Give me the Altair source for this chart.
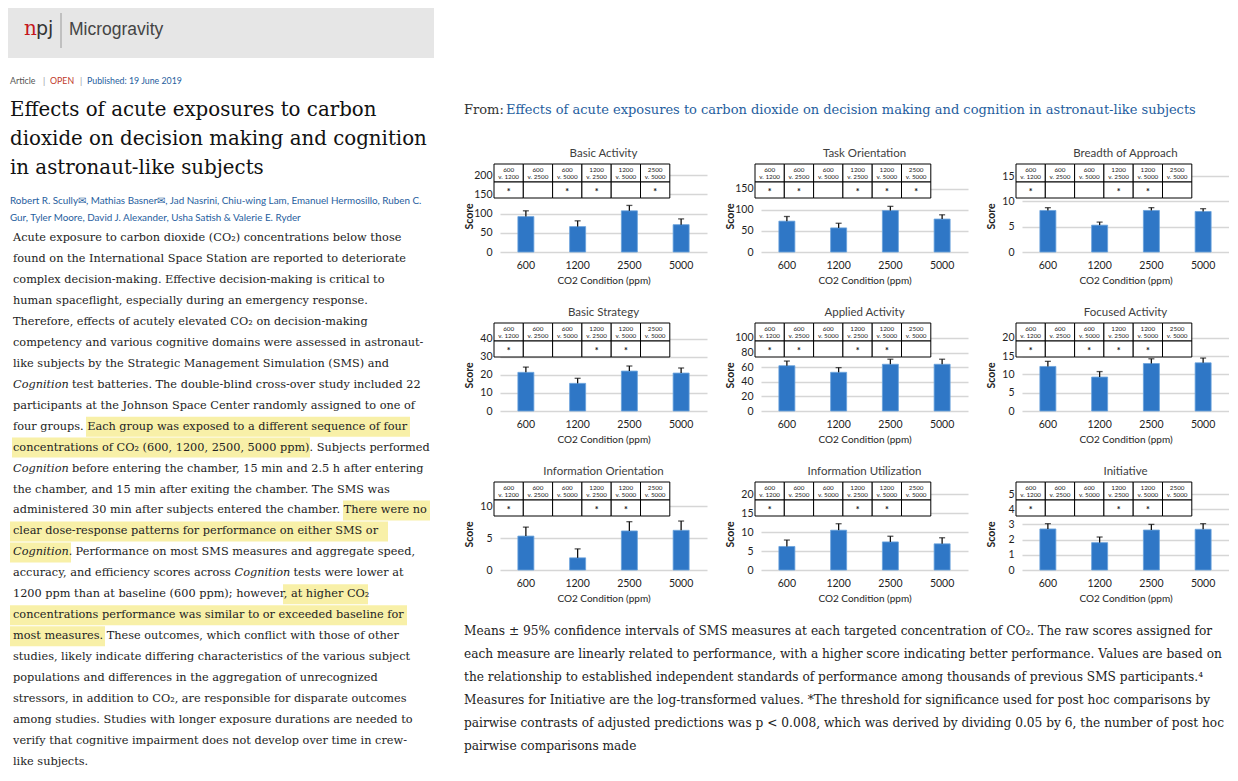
import altair as alt
import pandas as pd

# ---------------- data ----------------
conditions = ["600", "1200", "2500", "5000"]

panel_names = ["Basic Activity", "Task Orientation", "Breadth of Approach",
               "Basic Strategy", "Applied Activity", "Focused Activity",
               "Information Orientation", "Information Utilization", "Initiative"]

basic_activity = [92, 66, 107, 71]
basic_activity_ci = [15, 15, 14, 15]
task_orientation = [73, 57, 98, 78]
task_orientation_ci = [11, 11, 10, 10]
breadth_of_approach = [8.2, 5.3, 8.2, 8.0]
breadth_of_approach_ci = [0.55, 0.6, 0.55, 0.55]
basic_strategy = [21.4, 15.3, 22.1, 21.0]
basic_strategy_ci = [2.9, 2.8, 2.8, 2.8]
applied_activity = [62, 53, 64, 64]
applied_activity_ci = [6.4, 6.4, 6.9, 6.9]
focused_activity = [12.2, 9.3, 13.0, 13.2]
focused_activity_ci = [1.4, 1.5, 1.3, 1.3]
information_orientation = [5.3, 1.9, 6.1, 6.2]
information_orientation_ci = [1.4, 1.4, 1.45, 1.45]
information_utilization = [6.2, 10.5, 7.4, 6.9]
information_utilization_ci = [1.7, 1.7, 1.5, 1.6]
initiative = [2.7, 1.8, 2.63, 2.68]
initiative_ci = [0.35, 0.37, 0.37, 0.37]

comp_first = ["600", "600", "600", "1200", "1200", "2500"]
comp_second = ["v. 1200", "v. 2500", "v. 5000", "v. 2500", "v. 5000", "v. 5000"]

sig_basic_activity = [1, 0, 1, 1, 0, 1]
sig_task_orientation = [1, 1, 0, 1, 1, 1]
sig_breadth_of_approach = [1, 0, 0, 1, 1, 0]
sig_basic_strategy = [1, 0, 0, 1, 1, 0]
sig_applied_activity = [1, 1, 0, 1, 1, 0]
sig_focused_activity = [1, 0, 1, 1, 1, 0]
sig_information_orientation = [1, 0, 0, 1, 1, 0]
sig_information_utilization = [1, 0, 0, 1, 1, 0]
sig_initiative = [1, 0, 0, 1, 1, 0]

ticks_basic_activity = [0, 50, 100, 150, 200]
ticks_task_orientation = [0, 50, 100, 150]
ticks_breadth_of_approach = [0, 5, 10, 15]
ticks_basic_strategy = [0, 10, 20, 30, 40]
ticks_applied_activity = [0, 20, 40, 60, 80, 100]
ticks_focused_activity = [0, 5, 10, 15, 20]
ticks_information_orientation = [0, 5, 10]
ticks_information_utilization = [0, 5, 10, 15, 20]
ticks_initiative = [0, 1, 2, 3, 4, 5]

# ---------------- texts ----------------
journal_name = "Microgravity"
article_meta = ["Article", "|", "OPEN", "|", "Published: 19 June 2019"]
article_title = ["Effects of acute exposures to carbon",
                 "dioxide on decision making and cognition",
                 "in astronaut-like subjects"]
authors = ["Robert R. Scully\u2709, Mathias Basner\u2709, Jad Nasrini, Chiu-wing Lam, Emanuel Hermosillo, Ruben C.",
           "Gur, Tyler Moore, David J. Alexander, Usha Satish & Valerie E. Ryder"]
# each abstract line as (normal prefix, italic word, normal rest)
abstract_lines = [
    ("Acute exposure to carbon dioxide (CO\u2082) concentrations below those", "", ""),
    ("found on the International Space Station are reported to deteriorate", "", ""),
    ("complex decision-making. Effective decision-making is critical to", "", ""),
    ("human spaceflight, especially during an emergency response.", "", ""),
    ("Therefore, effects of acutely elevated CO\u2082 on decision-making", "", ""),
    ("competency and various cognitive domains were assessed in astronaut-", "", ""),
    ("like subjects by the Strategic Management Simulation (SMS) and", "", ""),
    ("", "Cognition", "test batteries. The double-blind cross-over study included 22"),
    ("participants at the Johnson Space Center randomly assigned to one of", "", ""),
    ("four groups. Each group was exposed to a different sequence of four", "", ""),
    ("concentrations of CO\u2082 (600, 1200, 2500, 5000 ppm). Subjects performed", "", ""),
    ("", "Cognition", "before entering the chamber, 15 min and 2.5 h after entering"),
    ("the chamber, and 15 min after exiting the chamber. The SMS was", "", ""),
    ("administered 30 min after subjects entered the chamber. There were no", "", ""),
    ("clear dose-response patterns for performance on either SMS or", "", ""),
    ("", "Cognition.", "Performance on most SMS measures and aggregate speed,"),
    ("accuracy, and efficiency scores across", "Cognition", "tests were lower at"),
    ("1200 ppm than at baseline (600 ppm); however, at higher CO\u2082", "", ""),
    ("concentrations performance was similar to or exceeded baseline for", "", ""),
    ("most measures. These outcomes, which conflict with those of other", "", ""),
    ("studies, likely indicate differing characteristics of the various subject", "", ""),
    ("populations and differences in the aggregation of unrecognized", "", ""),
    ("stressors, in addition to CO\u2082, are responsible for disparate outcomes", "", ""),
    ("among studies. Studies with longer exposure durations are needed to", "", ""),
    ("verify that cognitive impairment does not develop over time in crew-", "", ""),
    ("like subjects.", "", ""),
]
highlight_lines = [9, 10, 13, 14, 15, 17, 18, 19]
figure_from = ["From:", "Effects of acute exposures to carbon dioxide on decision making and cognition in astronaut-like subjects"]
caption_lines = [
    "Means \u00b1 95% confidence intervals of SMS measures at each targeted concentration of CO\u2082. The raw scores assigned for",
    "each measure are linearly related to performance, with a higher score indicating better performance. Values are based on",
    "the relationship to established independent standards of performance among thousands of previous SMS participants.\u2074",
    "Measures for Initiative are the log-transformed values. *The threshold for significance used for post hoc comparisons by",
    "pairwise contrasts of adjusted predictions was p < 0.008, which was derived by dividing 0.05 by 6, the number of post hoc",
    "pairwise comparisons made",
]

# ---------------- styles / layout ----------------
BLUE = "#2f77c6"
SANS = "Lato"
SERIF = "DejaVu Serif"
DARK = "#1e1e1e"
PW, PH = 207, 88
TAB_X0, TAB_CW = -6, 29.3

panels_spec = [
    (basic_activity, basic_activity_ci, sig_basic_activity, ticks_basic_activity, 228.6),
    (task_orientation, task_orientation_ci, sig_task_orientation, ticks_task_orientation, 208.2),
    (breadth_of_approach, breadth_of_approach_ci, sig_breadth_of_approach, ticks_breadth_of_approach, 17.37),
    (basic_strategy, basic_strategy_ci, sig_basic_strategy, ticks_basic_strategy, 48.7),
    (applied_activity, applied_activity_ci, sig_applied_activity, ticks_applied_activity, 120.5),
    (focused_activity, focused_activity_ci, sig_focused_activity, ticks_focused_activity, 24.1),
    (information_orientation, information_orientation_ci, sig_information_orientation, ticks_information_orientation, 13.75),
    (information_utilization, information_utilization_ci, sig_information_utilization, ticks_information_utilization, 23.2),
    (initiative, initiative_ci, sig_initiative, ticks_initiative, 5.79),
]


def panel(title, vals, ci, sig, ticks, ytop):
    df = pd.DataFrame({"cond": conditions, "mean": vals, "ci": ci})
    base = alt.Chart(df).transform_calculate(top="datum.mean + datum.ci")
    xaxis = alt.Axis(labelAngle=0, ticks=False, domain=False, grid=False,
                     labelPadding=8, titlePadding=5, labelFont=SANS,
                     labelFontSize=10.5, labelColor=DARK, titleFont=SANS,
                     titleFontSize=10, titleFontWeight="normal", titleColor=DARK)
    xscale = alt.Scale(paddingInner=0, paddingOuter=0)
    yaxis = alt.Axis(values=ticks, ticks=False, domain=False, grid=True, labelOverlap=False,
                     gridColor="#d6d6d6", gridWidth=1.3, labelPadding=8,
                     labelFont=SANS, labelFontSize=10.5, labelColor=DARK,
                     titleFont=SANS, titleFontSize=10.5, titleFontWeight="bold",
                     titleColor=DARK, titleX=-26, titleY=52, titleBaseline="bottom")
    yscale = alt.Scale(domain=[0, ytop], nice=False)

    def X():
        return alt.X("cond:N", sort=conditions, title="CO2 Condition (ppm)",
                     scale=xscale, axis=xaxis)

    def Y(field):
        return alt.Y(field, title="Score", scale=yscale, axis=yaxis)

    bars = base.mark_bar(size=16, color=BLUE, stroke="#6aa2dc", strokeWidth=0.8).encode(
        x=X(), y=Y("mean:Q"))
    rule = base.mark_rule(color="#111111", strokeWidth=1.3).encode(
        x=X(), y=Y("mean:Q"), y2="top:Q")
    cap = base.mark_tick(color="#111111", size=6, thickness=1.3, orient="horizontal").encode(
        x=X(), y=Y("top:Q"))

    tab = pd.DataFrame({"a": comp_first, "b": comp_second,
                        "s": ["*" if v else "" for v in sig], "i": list(range(6))})
    tb = alt.Chart(tab).transform_calculate(
        x0=f"{TAB_X0} + datum.i * {TAB_CW}",
        x1=f"{TAB_X0} + (datum.i + 1) * {TAB_CW}",
        xc=f"{TAB_X0} + (datum.i + 0.5) * {TAB_CW}")
    cell1 = tb.mark_rect(fill="white", stroke="black", strokeWidth=1).encode(
        x=alt.X("x0:Q", scale=None), x2="x1:Q", y=alt.value(0), y2=alt.value(18))
    cell2 = tb.mark_rect(fill="white", stroke="black", strokeWidth=1).encode(
        x=alt.X("x0:Q", scale=None), x2="x1:Q", y=alt.value(18), y2=alt.value(34))
    ta = tb.mark_text(font=SANS, fontSize=6.3, color="#222").encode(
        x=alt.X("xc:Q", scale=None), y=alt.value(5.5), text="a:N")
    tbb = tb.mark_text(font=SANS, fontSize=6.3, color="#222").encode(
        x=alt.X("xc:Q", scale=None), y=alt.value(12.8), text="b:N")
    ts = tb.mark_text(font=SANS, fontSize=9, fontWeight="bold", color="#111").encode(
        x=alt.X("xc:Q", scale=None), y=alt.value(28), text="s:N")
    return alt.layer(bars, rule, cap, cell1, cell2, ta, tbb, ts).properties(
        width=PW, height=PH,
        title=alt.TitleParams(title, font=SANS, fontSize=11.5, fontWeight="normal",
                              color="#404040", offset=4))


panels = [panel(n, *spec) for n, spec in zip(panel_names, panels_spec)]
grid = alt.concat(*panels, columns=3, bounds="flush",
                  spacing=alt.RowColnumber(row=71, column=54))

# ---------- left column (article page) ----------
LW, LH = 436, 760
BODY_SIZE = 11.3
BODY_X = 5
ITALIC_W = {"Cognition": 55.4, "Cognition.": 59.0}
SPACE_W = 3.6
PREFIX_W = {"accuracy, and efficiency scores across": 221.5}


def text_layer(df, **kw):
    return alt.Chart(df).mark_text(align="left", baseline="middle", **kw).encode(
        x=alt.X("x:Q", scale=None), y=alt.Y("y:Q", scale=None), text="t:N")


header = alt.Chart(pd.DataFrame({"x0": [0], "x1": [426], "y0": [0], "y1": [50]})).mark_rect(
    color="#e6e6e6").encode(x=alt.X("x0:Q", scale=None), x2="x1:Q",
                            y=alt.Y("y0:Q", scale=None), y2="y1:Q")
sep = alt.Chart(pd.DataFrame({"x": [53], "y0": [5], "y1": [40]})).mark_rule(
    color="#9a9a9a", strokeWidth=1).encode(x=alt.X("x:Q", scale=None),
                                           y=alt.Y("y0:Q", scale=None), y2="y1:Q")
logo_n = text_layer(pd.DataFrame({"t": ["n"], "x": [16], "y": [21]}),
                    font="DejaVu Serif", fontSize=20, color="#c4161c")
logo_pj = text_layer(pd.DataFrame({"t": ["pj"], "x": [28], "y": [21]}),
                     font="DejaVu Sans", fontSize=19, color="#333")
jname = text_layer(pd.DataFrame({"t": [journal_name], "x": [61], "y": [22]}),
                   font="Liberation Sans", fontSize=17.5, color="#444")
meta = text_layer(pd.DataFrame({"t": article_meta, "x": [2, 35, 42, 72, 79], "y": [73] * 5,
                                "c": ["#555", "#999", "#c0392b", "#999", "#1f5e9e"]}),
                  font=SANS, fontSize=8.8).encode(color=alt.Color("c:N", scale=None))
title_txt = text_layer(pd.DataFrame({"t": article_title, "x": [2] * 3, "y": [102, 131, 160]}),
                       font=SERIF, fontSize=19.8, color="#111")
auth_txt = text_layer(pd.DataFrame({"t": authors, "x": [2, 2], "y": [193, 210]}),
                      font=SANS, fontSize=9.85, color="#1f5e9e")
hl = pd.DataFrame({"line": highlight_lines,
                   "x0": [78, 4, 335, 2, 2, 275, 2, 2],
                   "x1": [402, 302, 422, 380, 63, 360, 399, 97]})
hl_layer = alt.Chart(hl).transform_calculate(
    y0="230 + datum.line * 20.96 - 10", y1="230 + datum.line * 20.96 + 10").mark_rect(
    color="#f8f0a8").encode(x=alt.X("x0:Q", scale=None), x2="x1:Q",
                            y=alt.Y("y0:Q", scale=None), y2="y1:Q")

# build normal / italic segments
norm_rows, ital_rows = [], []
for i, (pre, it, rest) in enumerate(abstract_lines):
    x = BODY_X
    if pre:
        norm_rows.append({"t": pre, "line": i, "x": x})
        if it:
            x += PREFIX_W[pre] if pre in PREFIX_W else 0
    if it:
        ital_rows.append({"t": it, "line": i, "x": x})
        x += ITALIC_W[it] + SPACE_W
        norm_rows.append({"t": rest, "line": i, "x": x})
body_norm = alt.Chart(pd.DataFrame(norm_rows)).transform_calculate(
    y="230 + datum.line * 20.96").mark_text(
    align="left", baseline="middle", font=SERIF, fontSize=BODY_SIZE, color="#222").encode(
    x=alt.X("x:Q", scale=None), y=alt.Y("y:Q", scale=None), text="t:N")
body_ital = alt.Chart(pd.DataFrame(ital_rows)).transform_calculate(
    y="230 + datum.line * 20.96").mark_text(
    align="left", baseline="middle", font=SERIF, fontStyle="italic", fontSize=BODY_SIZE,
    color="#222").encode(
    x=alt.X("x:Q", scale=None), y=alt.Y("y:Q", scale=None), text="t:N")

left = alt.layer(header, sep, logo_n, logo_pj, jname, meta, title_txt, auth_txt,
                 hl_layer, body_norm, body_ital).properties(width=LW, height=LH)

# ---------- right column ----------
from_chart = text_layer(pd.DataFrame({"t": figure_from, "x": [-36, 6], "y": [102, 102],
                                      "c": ["#333", "#1f5e9e"]}),
                        font=SERIF, fontSize=13).encode(
    color=alt.Color("c:N", scale=None)).properties(width=600, height=130)

cap_df = pd.DataFrame({"t": caption_lines, "line": list(range(len(caption_lines)))})
caption = alt.Chart(cap_df).transform_calculate(y="17 + datum.line * 23").mark_text(
    align="left", baseline="middle", font=SERIF, fontSize=12.2, color="#222").encode(
    x=alt.value(-36), y=alt.Y("y:Q", scale=None), text="t:N").properties(width=600, height=140)

right = alt.vconcat(from_chart, grid, caption, spacing=10)

chart = alt.hconcat(left, right, spacing=20).properties(padding=0).configure_view(
    strokeWidth=0)

chart.save("out.html", embed_options={"renderer": "svg", "actions": False})
